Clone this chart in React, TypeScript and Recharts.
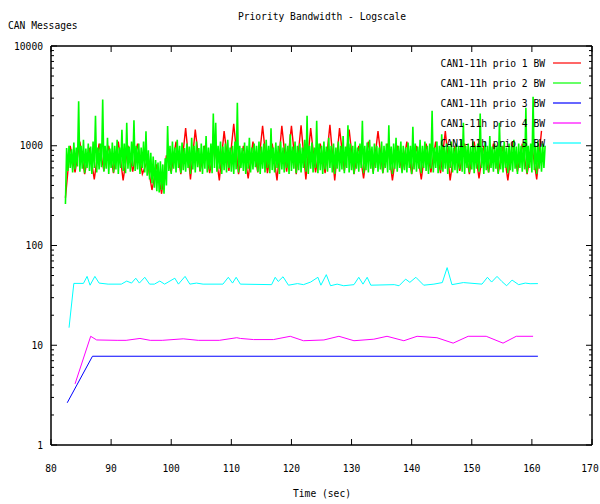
import { LineChart, Line, XAxis, YAxis, Legend } from 'recharts'

// prio 2 (green) sampled every 0.2 s from 82.4 s
const PRIO2_START = 82.4
const PRIO2_STEP = 0.2
const prio2Bw = [
  260, 950, 560, 1000, 600, 920, 540, 1080, 580, 960, 620, 2800, 550, 1000, 590, 1150, 530, 940, 600, 1050,
  560, 980, 520, 1100, 600, 2000, 540, 960, 580, 1050, 610, 2900, 550, 1000, 590, 1200, 520, 940, 600, 1080,
  540, 1000, 580, 1150, 520, 960, 600, 1450, 560, 1050, 530, 1700, 590, 980, 550, 1100, 620, 1800, 560, 1000,
  580, 1050, 520, 960, 600, 1100, 540, 1400, 500, 900, 460, 850, 420, 780, 380, 720, 350, 680, 340, 700,
  360, 650, 330, 750, 400, 1580, 560, 1000, 520, 1100, 590, 960, 540, 1150, 600, 1000, 530, 1080, 570, 950,
  550, 1050, 600, 980, 520, 1200, 580, 1000, 540, 1100, 610, 950, 560, 1050, 520, 1000, 590, 1250, 540, 960,
  580, 1050, 530, 2100, 600, 1700, 550, 1000, 590, 1100, 520, 980, 570, 1050, 540, 1150, 600, 960, 550, 1000,
  520, 1100, 580, 2700, 540, 1000, 600, 950, 560, 1080, 520, 1000, 590, 1200, 540, 960, 580, 1050, 610, 1000,
  550, 1100, 520, 980, 590, 1050, 540, 1150, 600, 1000, 530, 1500, 570, 960, 540, 1080, 600, 1000, 520, 1100,
  580, 960, 540, 1050, 600, 1000, 520, 1300, 560, 980, 590, 1100, 530, 1000, 570, 1050, 540, 960, 600, 1150,
  550, 2000, 520, 1000, 590, 1080, 540, 960, 600, 1780, 530, 1050, 570, 1000, 520, 1100, 580, 980, 550, 1200,
  600, 1000, 540, 1050, 520, 960, 590, 1100, 550, 1000, 580, 1250, 530, 980, 600, 1600, 540, 1050, 570, 1000,
  520, 1100, 590, 960, 550, 1050, 600, 1780, 530, 1000, 570, 1080, 540, 1150, 590, 980, 520, 1050, 600, 1000,
  550, 960, 580, 1100, 530, 1000, 600, 1050, 540, 1600, 570, 980, 520, 1050, 590, 1200, 550, 1000, 600, 1100,
  530, 1000, 570, 960, 540, 1080, 600, 1000, 520, 1550, 580, 1050, 550, 980, 590, 1150, 530, 1000, 600, 1100,
  560, 1000, 520, 1050, 590, 2240, 540, 960, 600, 1100, 530, 1000, 570, 1300, 550, 980, 590, 1050, 520, 1000,
  600, 1100, 540, 960, 570, 1050, 530, 1000, 590, 1150, 550, 1700, 520, 1000, 600, 1050, 540, 980, 580, 1100,
  530, 1000, 590, 1050, 550, 2100, 600, 960, 520, 1100, 570, 1000, 540, 1250, 600, 980, 550, 1050, 590, 1000,
  520, 1700, 580, 1000, 540, 1100, 600, 960, 530, 1050, 570, 1000, 550, 1150, 590, 980, 520, 1050, 600, 1000,
  550, 1100, 580, 2400, 530, 1000, 600, 1050, 540, 3100, 570, 1000, 520, 1100, 590, 980, 550, 1050, 600, 1000,
]

// prio 1 (red) sampled every 0.8 s from 82.4 s
const PRIO1_START = 82.4
const PRIO1_STEP = 0.8
const prio1Bw = [
  300, 1000, 540, 1100, 520, 950, 460, 1050, 560, 1000,
  530, 1100, 450, 1000, 550, 1050, 520, 700, 360, 650,
  330, 800, 540, 1100, 520, 1500, 460, 1450, 550, 1000,
  530, 1050, 450, 1400, 560, 1660, 520, 1000, 470, 1100,
  540, 1580, 530, 1050, 450, 1580, 550, 1580, 520, 1600,
  460, 1500, 540, 1050, 530, 1620, 450, 1500, 560, 1450,
  520, 1000, 470, 1100, 540, 1400, 530, 1050, 450, 1000,
  550, 1100, 520, 1000, 460, 1050, 540, 1100, 530, 1400,
  450, 1000, 560, 1050, 520, 1100, 470, 1000, 540, 1050,
  530, 1000, 450, 1100, 550, 1050, 520, 1000, 460, 1410,
]

const prio3Time = [82.7, 86.9, 161.0]
const prio3Bw = [2.65, 7.76, 7.76]

const prio4Time = [
  84.0, 86.6, 87.6, 91.0, 92.5, 94.8, 96.5, 98.5, 102.0, 104.5,
  108.0, 110.9, 111.5, 113.7, 117.0, 119.8, 122.0, 125.4, 127.9, 130.4,
  133.7, 135.9, 138.7, 140.9, 144.2, 146.9, 149.4, 152.4, 155.2, 157.4, 160.2,
]
const prio4Bw = [
  4.1, 12.3, 11.3, 11.2, 11.2, 11.7, 11.2, 11.2, 11.6, 11.2,
  11.2, 11.9, 11.7, 11.4, 11.4, 12.3, 11.1, 11.3, 12.3, 11.1,
  11.5, 12.3, 11.1, 12.3, 11.9, 10.5, 12.3, 12.3, 10.5, 12.3, 12.3,
]

const prio5Time = [
  83.0, 83.8, 85.4, 86.0, 86.5, 87.3, 88.0, 89.5, 91.7, 92.6,
  93.4, 94.1, 94.7, 95.6, 96.4, 97.2, 98.1, 98.9, 100.6, 101.2,
  102.3, 103.1, 104.2, 105.3, 108.6, 109.5, 110.2, 110.8, 111.5, 116.7,
  117.3, 117.8, 118.6, 119.5, 121.0, 122.0, 123.2, 124.4, 124.9, 125.8,
  126.5, 127.6, 128.7, 130.4, 131.2, 131.9, 132.6, 133.2, 137.1, 137.9,
  139.0, 139.7, 140.7, 142.0, 143.7, 145.1, 145.9, 146.7, 148.6, 151.7,
  152.6, 153.3, 154.2, 155.0, 155.8, 156.7, 157.8, 158.9, 159.7, 161.0,
]
const prio5Bw = [
  15, 41.7, 41.7, 49, 40, 49, 42, 41, 41, 44,
  42, 47, 42, 48, 41, 41, 44, 41, 47, 41,
  49, 41, 42, 41, 41, 48, 42, 48, 41, 40.5,
  48, 43.6, 48.6, 40, 41.5, 40.5, 43, 48, 40, 51,
  39.5, 41, 39.5, 40.5, 48, 41, 48, 40, 40.5, 39.5,
  46, 42.7, 48, 40, 41, 42.5, 60, 40.5, 42.5, 41,
  48, 43, 49, 43.6, 39.5, 45, 40.5, 42, 41.4, 41.5,
]

const xTicks = [80, 90, 100, 110, 120, 130, 140, 150, 160, 170]
const yMajor = [1, 10, 100, 1000, 10000]
const yMinorSteps = [2, 3, 4, 5, 6, 7, 8, 9]
const yTicks = yMajor.flatMap((m) => (m < 10000 ? [m, ...yMinorSteps.map((s) => s * m)] : [m]))

const seriesNames = [
  'CAN1-11h prio 1 BW',
  'CAN1-11h prio 2 BW',
  'CAN1-11h prio 3 BW',
  'CAN1-11h prio 4 BW',
  'CAN1-11h prio 5 BW',
]
const seriesColors = ['#ff0000', '#00ff00', '#0000ff', '#ff00ff', '#00ffff']
// the two dense noisy series are drawn a bit heavier so they read as a band
const seriesWidths = [1.4, 1.6, 1, 1, 1]

const stepped = (start: number, step: number, vals: number[]) =>
  vals.map((v, i) => ({ t: +(start + i * step).toFixed(2), v }))
const paired = (ts: number[], vals: number[]) => ts.map((t, i) => ({ t, v: vals[i] }))

const seriesData = [
  stepped(PRIO1_START, PRIO1_STEP, prio1Bw),
  stepped(PRIO2_START, PRIO2_STEP, prio2Bw),
  paired(prio3Time, prio3Bw),
  paired(prio4Time, prio4Bw),
  paired(prio5Time, prio5Bw),
]

const FONT = '"DejaVu Sans Mono", "Liberation Mono", monospace'

function Mono({ x, y, text, anchor = 'middle' }: { x: number; y: number; text: string; anchor?: string }) {
  return (
    <text
      x={x}
      y={y}
      fontFamily={FONT}
      fontSize={11}
      fill="#000"
      textAnchor={anchor}
      dominantBaseline="central"
      textLength={text.length * 5.8}
      lengthAdjust="spacingAndGlyphs"
    >
      {text}
    </text>
  )
}

const isMajor = (v: number) => yMajor.includes(v)

function LeftTick({ x, y, payload }: any) {
  const major = isMajor(payload.value)
  return (
    <g>
      <line x1={x} x2={x + (major ? 6 : 3)} y1={y} y2={y} stroke="#000" />
      {major && <Mono x={x - 8} y={y} text={String(payload.value)} anchor="end" />}
    </g>
  )
}

function RightTick({ x, y, payload }: any) {
  const major = isMajor(payload.value)
  return <line x1={x} x2={x - (major ? 6 : 3)} y1={y} y2={y} stroke="#000" />
}

function BottomTick({ x, y, payload }: any) {
  // keep the last label inside the page
  const tx = payload.value === 170 ? x - 2 : x
  return (
    <g>
      <line x1={x} x2={x} y1={y} y2={y - 6} stroke="#000" />
      <Mono x={tx} y={y + 23} text={String(payload.value)} />
    </g>
  )
}

function TopTick({ x, y }: any) {
  return <line x1={x} x2={x} y1={y} y2={y + 6} stroke="#000" />
}

function Overlay() {
  return (
    <svg width={600} height={504} style={{ position: 'absolute', left: 0, top: 0, pointerEvents: 'none' }}>
      <Mono x={322} y={16} text="Priority Bandwidth - Logscale" />
      <Mono x={8} y={25} text="CAN Messages" anchor="start" />
      <Mono x={322} y={493} text="Time (sec)" />
      {seriesNames.map((name, i) => (
        <g key={name}>
          <Mono x={545} y={63 + i * 20} text={name} anchor="end" />
          <line x1={553} x2={581} y1={63 + i * 20} y2={63 + i * 20} stroke={seriesColors[i]} strokeWidth={1.2} />
        </g>
      ))}
    </svg>
  )
}

const axisLine = { stroke: '#000', strokeWidth: 1.5 }

export default function App() {
  return (
    <div style={{ position: 'absolute', left: 0, top: 0, width: 600, height: 504, background: '#fff' }}>
      <LineChart width={600} height={504} margin={{ top: 0, right: 0, bottom: 0, left: 0 }}>
        <XAxis
          xAxisId="bottom"
          dataKey="t"
          type="number"
          domain={[80, 170]}
          ticks={xTicks}
          interval={0}
          allowDataOverflow
          height={59}
          axisLine={axisLine}
          tickLine={false}
          tickSize={0}
          tickMargin={0}
          tick={<BottomTick />}
        />
        <XAxis
          xAxisId="top"
          orientation="top"
          dataKey="t"
          type="number"
          domain={[80, 170]}
          ticks={xTicks}
          interval={0}
          allowDataOverflow
          height={46}
          axisLine={axisLine}
          tickLine={false}
          tickSize={0}
          tickMargin={0}
          tick={<TopTick />}
        />
        <YAxis
          yAxisId="left"
          scale="log"
          type="number"
          domain={[1, 10000]}
          ticks={yTicks}
          interval={0}
          allowDataOverflow
          width={51}
          axisLine={axisLine}
          tickLine={false}
          tickSize={0}
          tickMargin={0}
          tick={<LeftTick />}
        />
        <YAxis
          yAxisId="right"
          orientation="right"
          scale="log"
          type="number"
          domain={[1, 10000]}
          ticks={yTicks}
          interval={0}
          allowDataOverflow
          width={8}
          axisLine={axisLine}
          tickLine={false}
          tickSize={0}
          tickMargin={0}
          tick={<RightTick />}
        />
        {seriesData.map((data, i) => (
          <Line
            key={seriesNames[i]}
            xAxisId="bottom"
            yAxisId="left"
            data={data}
            dataKey="v"
            name={seriesNames[i]}
            type="linear"
            stroke={seriesColors[i]}
            strokeWidth={seriesWidths[i]}
            strokeLinejoin="miter"
            dot={false}
            activeDot={false}
            isAnimationActive={false}
          />
        ))}
        <Legend
          layout="horizontal"
          verticalAlign="middle"
          align="center"
          content={() => <Overlay />}
          wrapperStyle={{ position: 'absolute', left: 0, top: 0, width: 600, height: 504 }}
        />
      </LineChart>
    </div>
  )
}
